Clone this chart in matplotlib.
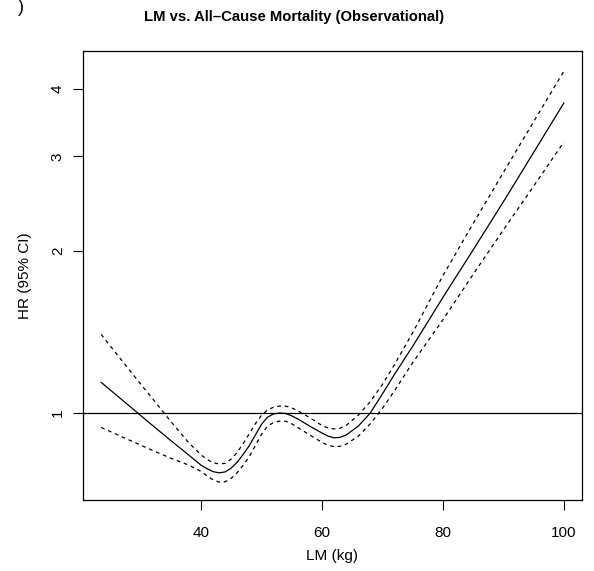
import matplotlib
matplotlib.use("Agg")
import matplotlib.pyplot as plt
from matplotlib.ticker import FixedLocator, NullLocator, FixedFormatter

plt.rcParams["font.family"] = ["Liberation Sans", "DejaVu Sans"]

# values (HR on log scale)
lm_kg = [23.5, 26, 29, 32, 35, 38, 40, 41, 42, 43, 44, 45, 46, 47, 48, 49, 50,
         51, 52, 53, 54, 55, 56, 58, 60, 61, 62, 63, 64, 66, 68, 70, 72, 75,
         80, 85, 90, 95, 100]
hr = [1.14, 1.08, 1.012, 0.948, 0.889, 0.835, 0.80, 0.788, 0.778, 0.774,
      0.777, 0.79, 0.81, 0.838, 0.87, 0.91, 0.952, 0.982, 0.996, 1.0, 0.998,
      0.988, 0.975, 0.945, 0.918, 0.906, 0.899, 0.901, 0.91, 0.945, 1.0,
      1.085, 1.18, 1.33, 1.64, 2.01, 2.47, 3.05, 3.77]
hr_upper = [1.40, 1.29, 1.17, 1.063, 0.965, 0.88, 0.836, 0.82, 0.808, 0.804,
            0.806, 0.821, 0.845, 0.878, 0.915, 0.955, 0.99, 1.013, 1.025,
            1.03, 1.03, 1.022, 1.01, 0.98, 0.948, 0.938, 0.934, 0.937, 0.948,
            0.99, 1.05, 1.13, 1.23, 1.41, 1.80, 2.25, 2.80, 3.48, 4.32]
hr_lower = [0.94, 0.913, 0.882, 0.852, 0.824, 0.800, 0.779, 0.764, 0.751,
            0.744, 0.745, 0.756, 0.775, 0.8, 0.83, 0.87, 0.912, 0.945, 0.96,
            0.966, 0.965, 0.955, 0.94, 0.91, 0.882, 0.871, 0.866, 0.867, 0.875,
            0.905, 0.955, 1.02, 1.10, 1.24, 1.49, 1.81, 2.19, 2.64, 3.19]

x_ticks = [40, 60, 80, 100]
y_ticks = [1, 2, 3, 4]

fig = plt.figure(figsize=(5.94, 5.71), dpi=100)
ax = fig.add_axes([83 / 594, 1 - 500 / 571, (582 - 83) / 594, (500 - 51) / 571])

ax.plot(lm_kg, hr, color="black", lw=0.9)
ax.plot(lm_kg, hr_upper, color="black", lw=0.9, linestyle=(0, (3, 3)))
ax.plot(lm_kg, hr_lower, color="black", lw=0.9, linestyle=(0, (3, 3)))
ax.axhline(1, color="black", lw=0.9)

ax.set_yscale("log")
ax.set_xlim(20.5, 103)
ax.set_ylim(0.689, 4.71)
ax.xaxis.set_major_locator(FixedLocator(x_ticks))
ax.yaxis.set_major_locator(FixedLocator(y_ticks))
ax.yaxis.set_major_formatter(FixedFormatter([str(v) for v in y_ticks]))
ax.yaxis.set_minor_locator(NullLocator())

ax.tick_params(direction="out", length=7, width=0.8, labelsize=11)
ax.tick_params(axis="x", pad=12)
ax.tick_params(axis="y", pad=6, labelrotation=90)
for lab in ax.get_yticklabels():
    lab.set_va("center")

for s in ax.spines.values():
    s.set_linewidth(0.9)

ax.set_xlabel("LM (kg)", fontsize=11, labelpad=6)
ax.set_ylabel("HR (95% CI)", fontsize=11, labelpad=14)
fig.text(294 / 594, 1 - 17 / 571, "LM vs. All\u2013Cause Mortality (Observational)",
         ha="center", va="center", fontsize=10.7, fontweight="bold")
fig.text(21 / 594, 1 - 7 / 571, ")", ha="center", va="center", fontsize=13)

fig.savefig("out.png", dpi=100)
